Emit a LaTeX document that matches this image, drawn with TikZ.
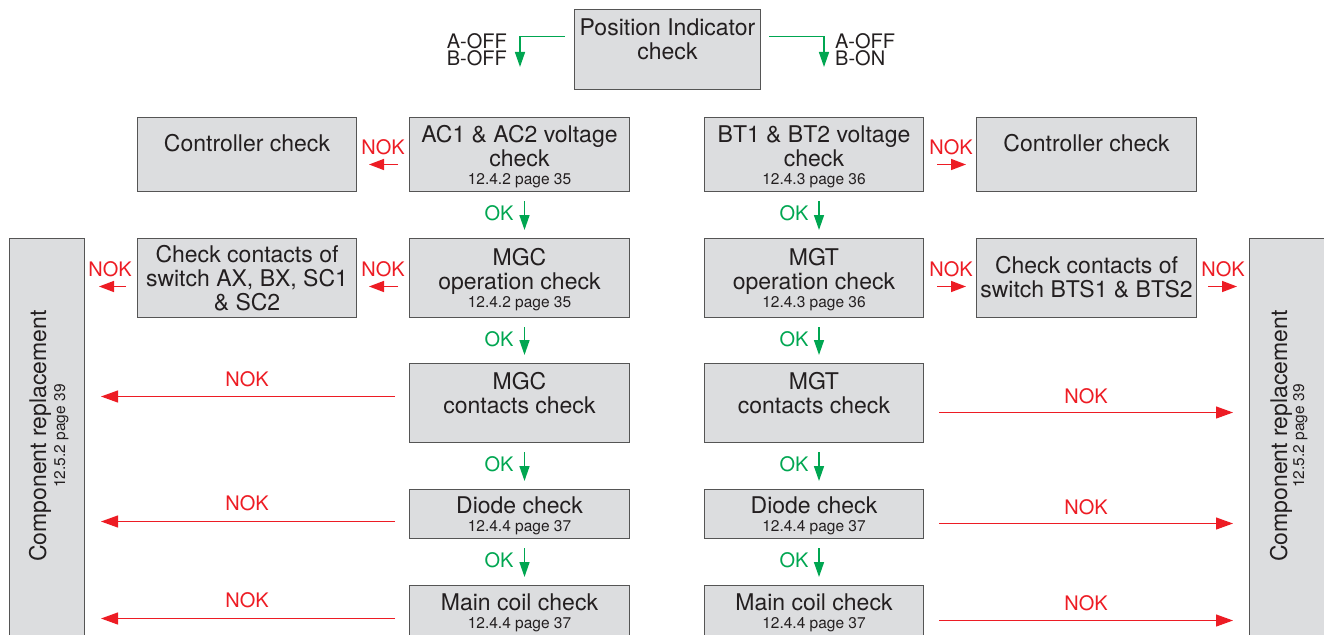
\documentclass[tikz,border=0pt]{standalone}
\usepackage{fontspec}
\setmainfont{TeX Gyre Heros}
\usetikzlibrary{arrows.meta,calc}
\definecolor{boxfill}{RGB}{220,221,223}
\definecolor{boxline}{RGB}{85,85,85}
\definecolor{txt}{RGB}{35,31,32}
\definecolor{okg}{RGB}{0,166,81}
\definecolor{nokr}{RGB}{237,28,36}
\newcommand\bx[5]{\parbox[c][#2pt][t]{#1pt}{\centering\fontsize{23}{24}\selectfont\rule{0pt}{#3pt}#4\par\fontsize{15.5}{18}\selectfont #5\par}}
\tikzset{
  box/.style={draw=boxline, fill=boxfill, line width=1pt, inner sep=0pt, anchor=north west, text=txt},
  okarrow/.style={okg, line width=1.5pt, -{Triangle[length=15pt,width=10pt]}},
  nokshort/.style={nokr, line width=1.5pt, -{Triangle[length=15pt,width=11pt]}},
  noklong/.style={nokr, line width=1.1pt, -{Triangle[length=17pt,width=12pt]}},
  lab/.style={font=\fontsize{20}{20}\selectfont, inner sep=0pt, anchor=base},
  okl/.style={lab, text=okg},
  nokl/.style={lab, text=nokr},
  posl/.style={font=\fontsize{20}{17}\selectfont, inner sep=0pt, text=txt},
  rot/.style={rotate=90, anchor=base, inner sep=0pt, text=txt}
}
\begin{document}
\begin{tikzpicture}[x=1pt, y=-1pt]
\useasboundingbox (0,0) rectangle (1324,634);
\clip (0,0) rectangle (1324,634);
% top
\node[box] (pi) at (574,9) {\bx{186}{80}{26}{Position Indicator\\check}{}};
\coordinate (offl) at (520,67);
\coordinate (offr) at (824,67);
\draw[okarrow] ($(pi.west)+(-9,-13)$) -| (offl);
\draw[okarrow] ($(pi.east)+(8,-13)$) -| (offr);
\node[posl, anchor=north east, align=right] (offtl) at (507,33) {\rule{0pt}{15pt}A-OFF\\B-OFF};
\node[posl, anchor=north west, align=left] (offtr) at (835,33) {\rule{0pt}{15pt}A-OFF\\B-ON};
% row 1
\node[box] (cl1) at (137,117) {\bx{219}{74}{34}{Controller check}{}};
\node[box] (ac) at (409,117) {\bx{220}{74}{25}{AC1 \& AC2 voltage\\check}{12.4.2 page 35}};
\node[box] (bt) at (704,117) {\bx{219}{74}{25}{BT1 \& BT2 voltage\\check}{12.4.3 page 36}};
\node[box] (cr1) at (976,117) {\bx{220}{74}{34}{Controller check}{}};
% row 2
\node[box] (ccl) at (137,238) {\bx{219}{79}{24}{Check contacts of\\switch AX, BX, SC1\\\& SC2}{}};
\node[box] (mgc) at (409,238) {\bx{220}{79}{27}{MGC\\operation check}{12.4.2 page 35}};
\node[box] (mgt) at (704,238) {\bx{219}{79}{27}{MGT\\operation check}{12.4.3 page 36}};
\node[box] (ccr) at (976,238) {\bx{220}{79}{35}{Check contacts of\\switch BTS1 \& BTS2}{}};
% row 3
\node[box] (mgcc) at (409,363) {\bx{220}{79}{26}{MGC\\contacts check}{}};
\node[box] (mgtc) at (704,363) {\bx{219}{79}{26}{MGT\\contacts check}{}};
% row 4
\node[box] (dl) at (409,489) {\bx{220}{49}{24}{Diode check}{12.4.4 page 37}};
\node[box] (dr) at (704,489) {\bx{219}{49}{24}{Diode check}{12.4.4 page 37}};
% row 5
\node[box] (ml) at (409,585) {\bx{220}{80}{25}{Main coil check}{12.4.4 page 37}};
\node[box] (mr) at (704,585) {\bx{219}{80}{25}{Main coil check}{12.4.4 page 37}};
% side bars
\node[box, minimum width=75pt, minimum height=470pt] (crl) at (9,238) {};
\node[box, minimum width=85pt, minimum height=470pt] (crr) at (1249,238) {};
\node[rot, font=\fontsize{23}{24}\selectfont] (crlt) at (46,436) {Component replacement};
\node[rot, font=\fontsize{15.5}{18}\selectfont] (crls) at (65,436) {12.5.2 page 39};
\node[rot, font=\fontsize{23}{24}\selectfont] (crrt) at (1287,436) {Component replacement};
\node[rot, font=\fontsize{15.5}{18}\selectfont] (crrs) at (1304,436) {12.5.2 page 39};
% OK arrows
\draw[okarrow] ($(ac.south)+(5,9)$) -- ($(mgc.north)+(5,-8)$);
\draw[okarrow] ($(mgc.south)+(5,9)$) -- ($(mgcc.north)+(5,-8)$);
\draw[okarrow] ($(mgcc.south)+(5,9)$) -- ($(dl.north)+(5,-8)$);
\draw[okarrow] ($(dl.south)+(5,9)$) -- ($(ml.north)+(5,-8)$);
\draw[okarrow] ($(bt.south)+(5,9)$) -- ($(mgt.north)+(5,-8)$);
\draw[okarrow] ($(mgt.south)+(5,9)$) -- ($(mgtc.north)+(5,-8)$);
\draw[okarrow] ($(mgtc.south)+(5,9)$) -- ($(dr.north)+(5,-8)$);
\draw[okarrow] ($(dr.south)+(5,9)$) -- ($(mr.north)+(5,-8)$);
\node[okl] (okl1) at (499,220) {OK};
\node[okl] (okl2) at (499,346) {OK};
\node[okl] (okl3) at (499,471) {OK};
\node[okl] (okl4) at (499,567) {OK};
\node[okl] (okr1) at (794,220) {OK};
\node[okl] (okr2) at (794,346) {OK};
\node[okl] (okr3) at (794,471) {OK};
\node[okl] (okr4) at (794,567) {OK};
% NOK short arrows
\draw[nokshort] ($(ac.west)+(-11,10)$) -- ($(cl1.east)+(12,10)$);
\node[nokl] (n1) at (383,154) {NOK};
\draw[nokshort] ($(bt.east)+(13,10)$) -- ($(cr1.west)+(-10,10)$);
\node[nokl] (n2) at (951,154) {NOK};
\draw[nokshort] ($(mgc.west)+(-11,8.5)$) -- ($(ccl.east)+(12,8.5)$);
\node[nokl] (n3) at (383,276) {NOK};
\draw[nokshort] ($(ccl.west)+(-11,8.5)$) -- ($(crl.east |- ccl.west)+(14,8.5)$);
\node[nokl] (n4) at (110,276) {NOK};
\draw[nokshort] ($(mgt.east)+(13,8.5)$) -- ($(ccr.west)+(-10,8.5)$);
\node[nokl] (n5) at (951,276) {NOK};
\draw[nokshort] ($(ccr.east)+(11,8.5)$) -- ($(crr.west |- ccr.east)+(-12,8.5)$);
\node[nokl] (n6) at (1223,276) {NOK};
% NOK long arrows
\draw[noklong] ($(mgcc.west)+(-14,-6.5)$) -- ($(crl.east |- mgcc.west)+(16,-6.5)$);
\node[nokl] (n7) at (247,386) {NOK};
\draw[noklong] ($(mgtc.east)+(15,9.5)$) -- ($(crr.west |- mgtc.east)+(-16,9.5)$);
\node[nokl] (n8) at (1086,403) {NOK};
\draw[noklong] ($(dl.west)+(-14,7.5)$) -- ($(crl.east |- dl.west)+(16,7.5)$);
\node[nokl] (n9) at (247,510) {NOK};
\draw[noklong] ($(dr.east)+(15,9.5)$) -- ($(crr.west |- dr.east)+(-16,9.5)$);
\node[nokl] (n10) at (1086,514) {NOK};
\draw[noklong] ($(ml.west)+(-14,-7)$) -- ($(crl.east |- ml.west)+(16,-7)$);
\node[nokl] (n11) at (247,607) {NOK};
\draw[noklong] ($(mr.east)+(15,-5)$) -- ($(crr.west |- mr.east)+(-16,-5)$);
\node[nokl] (n12) at (1086,610) {NOK};
\end{tikzpicture}
\end{document}
